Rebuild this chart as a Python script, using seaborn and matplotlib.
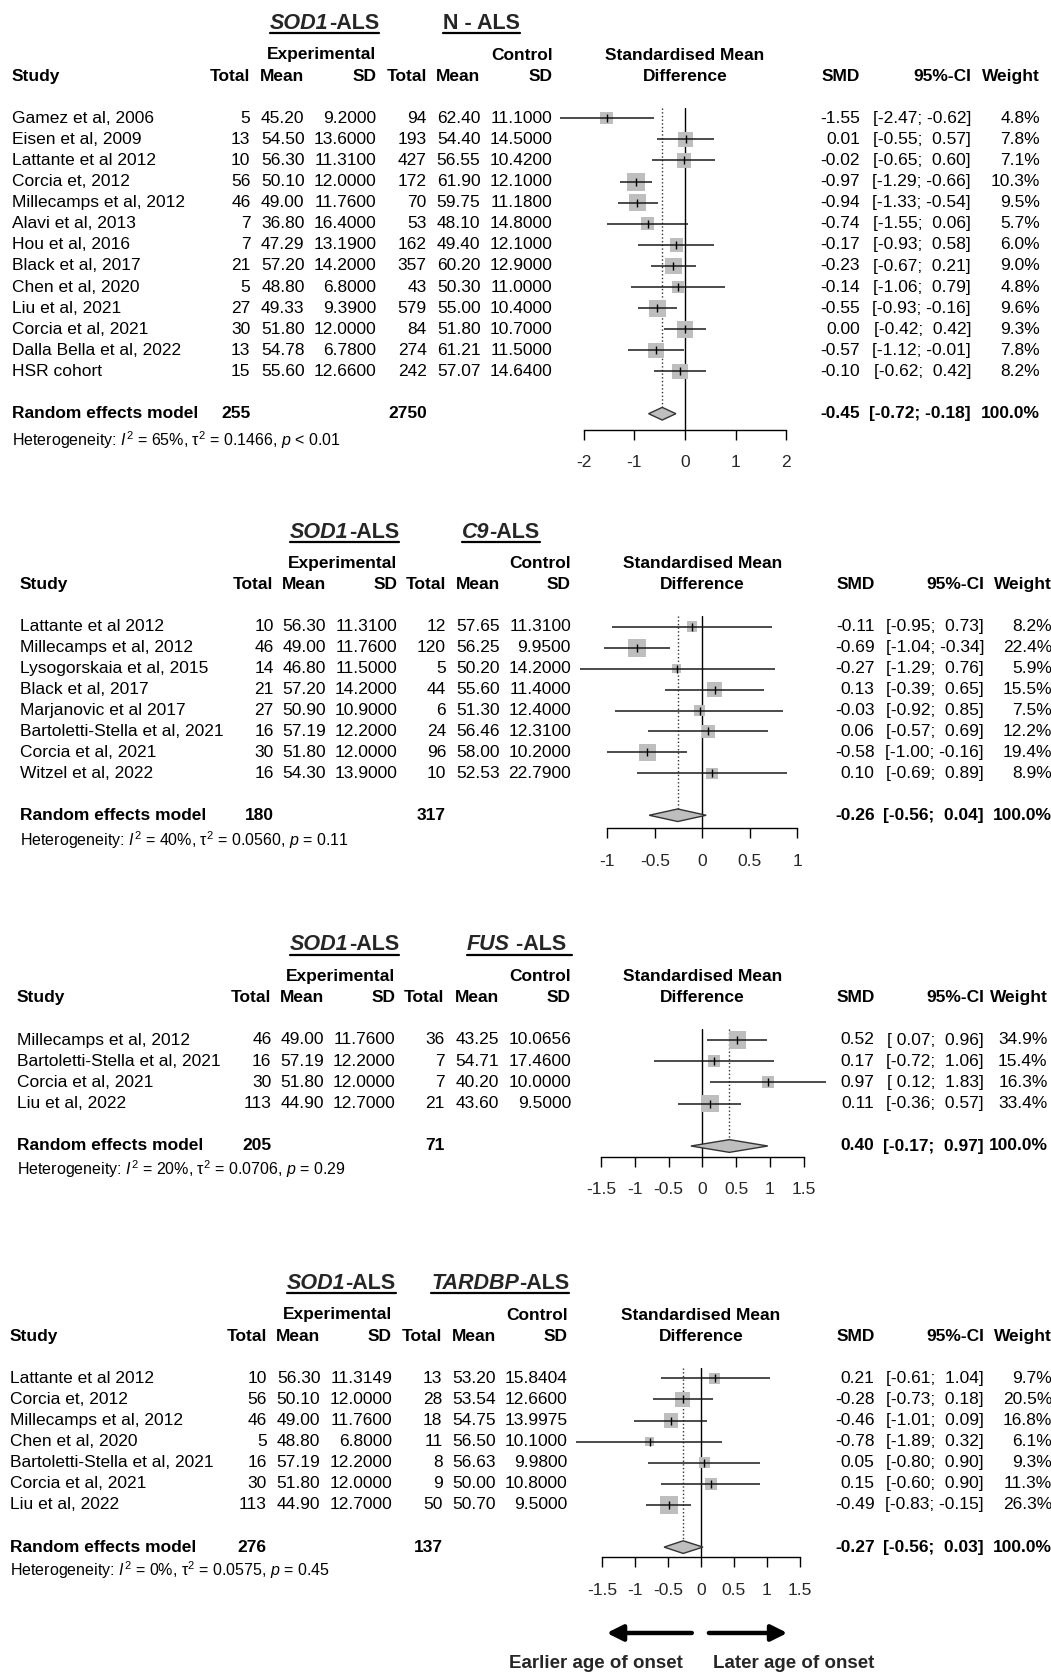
import numpy as np
import pandas as pd
import matplotlib
matplotlib.use("Agg")
import matplotlib.pyplot as plt
import matplotlib.transforms as mtransforms
from matplotlib.lines import Line2D
import seaborn as sns

# ============================================================================
# DATA
# ============================================================================

# --- SOD1-ALS vs N-ALS ---
nals_study = ["Gamez et al, 2006", "Eisen et al, 2009", "Lattante et al 2012", "Corcia et, 2012",
              "Millecamps et al, 2012", "Alavi et al, 2013", "Hou et al, 2016", "Black et al, 2017",
              "Chen et al, 2020", "Liu et al, 2021", "Corcia et al, 2021", "Dalla Bella et al, 2022",
              "HSR cohort"]
nals_e_n = [5, 13, 10, 56, 46, 7, 7, 21, 5, 27, 30, 13, 15]
nals_e_mean = [45.20, 54.50, 56.30, 50.10, 49.00, 36.80, 47.29, 57.20, 48.80, 49.33, 51.80, 54.78, 55.60]
nals_e_sd = [9.2, 13.6, 11.31, 12.0, 11.76, 16.4, 13.19, 14.2, 6.8, 9.39, 12.0, 6.78, 12.66]
nals_c_n = [94, 193, 427, 172, 70, 53, 162, 357, 43, 579, 84, 274, 242]
nals_c_mean = [62.40, 54.40, 56.55, 61.90, 59.75, 48.10, 49.40, 60.20, 50.30, 55.00, 51.80, 61.21, 57.07]
nals_c_sd = [11.1, 14.5, 10.42, 12.1, 11.18, 14.8, 12.1, 12.9, 11.0, 10.4, 10.7, 11.5, 14.64]
nals_smd = [-1.55, 0.01, -0.02, -0.97, -0.94, -0.74, -0.17, -0.23, -0.14, -0.55, 0.00, -0.57, -0.10]
nals_lo = [-2.47, -0.55, -0.65, -1.29, -1.33, -1.55, -0.93, -0.67, -1.06, -0.93, -0.42, -1.12, -0.62]
nals_hi = [-0.62, 0.57, 0.60, -0.66, -0.54, 0.06, 0.58, 0.21, 0.79, -0.16, 0.42, -0.01, 0.42]
nals_w = [4.8, 7.8, 7.1, 10.3, 9.5, 5.7, 6.0, 9.0, 4.8, 9.6, 9.3, 7.8, 8.2]
nals_pooled = [255, 2750, -0.45, -0.72, -0.18]
nals_het = ["65", "0.1466", "< 0.01"]
nals_ticks = [-2, -1, 0, 1, 2]
nals_ticklabels = ["-2", "-1", "0", "1", "2"]

# --- SOD1-ALS vs C9-ALS ---
c9_study = ["Lattante et al 2012", "Millecamps et al, 2012", "Lysogorskaia et al, 2015", "Black et al, 2017",
            "Marjanovic et al 2017", "Bartoletti-Stella et al, 2021", "Corcia et al, 2021", "Witzel et al, 2022"]
c9_e_n = [10, 46, 14, 21, 27, 16, 30, 16]
c9_e_mean = [56.30, 49.00, 46.80, 57.20, 50.90, 57.19, 51.80, 54.30]
c9_e_sd = [11.31, 11.76, 11.5, 14.2, 10.9, 12.2, 12.0, 13.9]
c9_c_n = [12, 120, 5, 44, 6, 24, 96, 10]
c9_c_mean = [57.65, 56.25, 50.20, 55.60, 51.30, 56.46, 58.00, 52.53]
c9_c_sd = [11.31, 9.95, 14.2, 11.4, 12.4, 12.31, 10.2, 22.79]
c9_smd = [-0.11, -0.69, -0.27, 0.13, -0.03, 0.06, -0.58, 0.10]
c9_lo = [-0.95, -1.04, -1.29, -0.39, -0.92, -0.57, -1.00, -0.69]
c9_hi = [0.73, -0.34, 0.76, 0.65, 0.85, 0.69, -0.16, 0.89]
c9_w = [8.2, 22.4, 5.9, 15.5, 7.5, 12.2, 19.4, 8.9]
c9_pooled = [180, 317, -0.26, -0.56, 0.04]
c9_het = ["40", "0.0560", "= 0.11"]
c9_ticks = [-1, -0.5, 0, 0.5, 1]
c9_ticklabels = ["-1", "-0.5", "0", "0.5", "1"]

# --- SOD1-ALS vs FUS-ALS ---
fus_study = ["Millecamps et al, 2012", "Bartoletti-Stella et al, 2021", "Corcia et al, 2021", "Liu et al, 2022"]
fus_e_n = [46, 16, 30, 113]
fus_e_mean = [49.00, 57.19, 51.80, 44.90]
fus_e_sd = [11.76, 12.2, 12.0, 12.7]
fus_c_n = [36, 7, 7, 21]
fus_c_mean = [43.25, 54.71, 40.20, 43.60]
fus_c_sd = [10.0656, 17.46, 10.0, 9.5]
fus_smd = [0.52, 0.17, 0.97, 0.11]
fus_lo = [0.07, -0.72, 0.12, -0.36]
fus_hi = [0.96, 1.06, 1.83, 0.57]
fus_w = [34.9, 15.4, 16.3, 33.4]
fus_pooled = [205, 71, 0.40, -0.17, 0.97]
fus_het = ["20", "0.0706", "= 0.29"]
fus_ticks = [-1.5, -1, -0.5, 0, 0.5, 1, 1.5]
fus_ticklabels = ["-1.5", "-1", "-0.5", "0", "0.5", "1", "1.5"]

# --- SOD1-ALS vs TARDBP-ALS ---
tdp_study = ["Lattante et al 2012", "Corcia et, 2012", "Millecamps et al, 2012", "Chen et al, 2020",
             "Bartoletti-Stella et al, 2021", "Corcia et al, 2021", "Liu et al, 2022"]
tdp_e_n = [10, 56, 46, 5, 16, 30, 113]
tdp_e_mean = [56.30, 50.10, 49.00, 48.80, 57.19, 51.80, 44.90]
tdp_e_sd = [11.3149, 12.0, 11.76, 6.8, 12.2, 12.0, 12.7]
tdp_c_n = [13, 28, 18, 11, 8, 9, 50]
tdp_c_mean = [53.20, 53.54, 54.75, 56.50, 56.63, 50.00, 50.70]
tdp_c_sd = [15.8404, 12.66, 13.9975, 10.1, 9.98, 10.8, 9.5]
tdp_smd = [0.21, -0.28, -0.46, -0.78, 0.05, 0.15, -0.49]
tdp_lo = [-0.61, -0.73, -1.01, -1.89, -0.80, -0.60, -0.83]
tdp_hi = [1.04, 0.18, 0.09, 0.32, 0.90, 0.90, -0.15]
tdp_w = [9.7, 20.5, 16.8, 6.1, 9.3, 11.3, 26.3]
tdp_pooled = [276, 137, -0.27, -0.56, 0.03]
tdp_het = ["0", "0.0575", "= 0.45"]
tdp_ticks = [-1.5, -1, -0.5, 0, 0.5, 1, 1.5]
tdp_ticklabels = ["-1.5", "-1", "-0.5", "0", "0.5", "1", "1.5"]

panels = [
    dict(study=nals_study, e_n=nals_e_n, e_mean=nals_e_mean, e_sd=nals_e_sd, c_n=nals_c_n,
         c_mean=nals_c_mean, c_sd=nals_c_sd, smd=nals_smd, lo=nals_lo, hi=nals_hi, w=nals_w,
         pooled=nals_pooled, het=nals_het, ticks=nals_ticks, ticklabels=nals_ticklabels,
         right_title=[("N - ALS", "normal")]),
    dict(study=c9_study, e_n=c9_e_n, e_mean=c9_e_mean, e_sd=c9_e_sd, c_n=c9_c_n,
         c_mean=c9_c_mean, c_sd=c9_c_sd, smd=c9_smd, lo=c9_lo, hi=c9_hi, w=c9_w,
         pooled=c9_pooled, het=c9_het, ticks=c9_ticks, ticklabels=c9_ticklabels,
         right_title=[("C9", "italic"), ("-ALS", "normal")]),
    dict(study=fus_study, e_n=fus_e_n, e_mean=fus_e_mean, e_sd=fus_e_sd, c_n=fus_c_n,
         c_mean=fus_c_mean, c_sd=fus_c_sd, smd=fus_smd, lo=fus_lo, hi=fus_hi, w=fus_w,
         pooled=fus_pooled, het=fus_het, ticks=fus_ticks, ticklabels=fus_ticklabels,
         right_title=[("FUS", "italic"), (" -ALS ", "normal")]),
    dict(study=tdp_study, e_n=tdp_e_n, e_mean=tdp_e_mean, e_sd=tdp_e_sd, c_n=tdp_c_n,
         c_mean=tdp_c_mean, c_sd=tdp_c_sd, smd=tdp_smd, lo=tdp_lo, hi=tdp_hi, w=tdp_w,
         pooled=tdp_pooled, het=tdp_het, ticks=tdp_ticks, ticklabels=tdp_ticklabels,
         right_title=[("TARDBP", "italic"), ("-ALS", "normal")]),
]

# ============================================================================
# LAYOUT (pixel positions of each panel in the 1051 x 1672 figure)
# ============================================================================
W, H = 1051, 1672
layouts = [
    dict(y0=118.3, dy=21.1, x0=685.0, ux=50.6, axis_off=0.77, het_off=1.25,
         cols=[12, 250.5, 304.5, 376.3, 426.7, 480.5, 552.4, 860, 971, 1040], titles=[270, 443]),
    dict(y0=626.7, dy=20.95, x0=702.4, ux=95.0, axis_off=0.62, het_off=1.18,
         cols=[20, 273.5, 326, 397.5, 446, 500, 571, 874.6, 984, 1052], titles=[290, 462]),
    dict(y0=1040.0, dy=21.2, x0=702.4, ux=67.4, axis_off=0.50, het_off=1.07,
         cols=[17, 271.4, 323.7, 395.4, 444.4, 499.3, 571, 874.6, 984, 1047.6], titles=[290, 467]),
    dict(y0=1378.3, dy=21.1, x0=701.0, ux=65.9, axis_off=0.48, het_off=1.10,
         cols=[10, 266.8, 320.4, 392, 442.4, 496, 567.7, 874.6, 984, 1052], titles=[287, 431]),
]

FS = 12.5          # body text
TITLE_FS = 15.5
HET_FS = 11.5
SQ_COL = "#BEBEBE"
SQ_MAX = 165       # area (pt^2) of the largest square in each panel

# ============================================================================
# STYLE
# ============================================================================
sns.set_style("white")
plt.rcParams["font.family"] = ["Liberation Sans", "DejaVu Sans"]
plt.rcParams["mathtext.fontset"] = "custom"
plt.rcParams["mathtext.rm"] = "Liberation Sans"
plt.rcParams["mathtext.it"] = "Liberation Sans:italic"
plt.rcParams["mathtext.bf"] = "Liberation Sans:bold"

fig = plt.figure(figsize=(W / 100, H / 100), dpi=100)
fig.patch.set_facecolor("white")
renderer = fig.canvas.get_renderer()

# ============================================================================
# PANELS
# ============================================================================
for k, (p, lay) in enumerate(zip(panels, layouts)):
    n = len(p["study"])
    rows = np.arange(n)
    pooled_row = n + 1
    axis_row = pooled_row + lay["axis_off"]
    top_row = -0.5

    left = lay["x0"] + p["ticks"][0] * lay["ux"]
    right = lay["x0"] + p["ticks"][-1] * lay["ux"]
    top_px = lay["y0"] + top_row * lay["dy"]
    bot_px = lay["y0"] + axis_row * lay["dy"]
    ax = fig.add_axes([left / W, 1 - bot_px / H, (right - left) / W, (bot_px - top_px) / H])
    ax.set_facecolor("none")

    # squares (area proportional to weight)
    df = pd.DataFrame({"smd": p["smd"], "row": rows, "weight": p["w"]})
    sns.scatterplot(data=df, x="smd", y="row", size="weight", sizes=(0, SQ_MAX),
                    size_norm=(0, max(p["w"])), marker="s", color=SQ_COL, linewidth=0,
                    legend=False, ax=ax, zorder=2, clip_on=False)
    # confidence intervals and point estimates
    ax.hlines(rows, p["lo"], p["hi"], color="#1a1a1a", lw=1.1, zorder=3, clip_on=False)
    ax.scatter(p["smd"], rows, marker="|", s=28, color="black", linewidths=1.0, zorder=4, clip_on=False)

    # pooled diamond
    e_tot, c_tot, m_est, m_lo, m_hi = p["pooled"]
    ax.fill([m_lo, m_est, m_hi, m_est],
            [pooled_row, pooled_row - 0.3, pooled_row, pooled_row + 0.3],
            facecolor=SQ_COL, edgecolor="#333333", lw=1.0, zorder=3, clip_on=False)

    # reference lines
    ax.axvline(0, color="black", lw=1.0, zorder=1)
    ax.vlines(m_est, top_row, pooled_row + 0.3, color="#333333", lw=1.0, linestyles=":", zorder=1)

    ax.set_xlim(p["ticks"][0], p["ticks"][-1])
    ax.set_ylim(axis_row, top_row)
    ax.set_xlabel("")
    ax.set_ylabel("")
    ax.set_yticks([])
    ax.set_xticks(p["ticks"])
    ax.set_xticklabels(p["ticklabels"])
    ax.tick_params(axis="x", direction="out", length=7.2, width=1.0, pad=11,
                   labelsize=FS, color="black", bottom=True)
    for side in ["top", "left", "right"]:
        ax.spines[side].set_visible(False)
    ax.spines["bottom"].set_color("black")
    ax.spines["bottom"].set_linewidth(1.0)

    # ------------------------------------------------------------------
    # text columns
    # ------------------------------------------------------------------
    tf = mtransforms.blended_transform_factory(fig.transFigure, ax.transData)
    c = lay["cols"]
    mid = (left + right) / 2

    def put(xp, row, s, ha="right", weight="normal", size=FS):
        ax.text(xp / W, row, s, transform=tf, ha=ha, va="center",
                fontsize=size, fontweight=weight, color="black")

    # headers
    put(c[3], -3, "Experimental", weight="bold")
    put(c[6], -3, "Control", weight="bold")
    put(mid, -3, "Standardised Mean", ha="center", weight="bold")
    put(c[0], -2, "Study", ha="left", weight="bold")
    for xp, lab in zip(c[1:7], ["Total", "Mean", "SD", "Total", "Mean", "SD"]):
        put(xp, -2, lab, weight="bold")
    put(mid, -2, "Difference", ha="center", weight="bold")
    put(c[7], -2, "SMD", weight="bold")
    put(c[8], -2, "95%-CI", weight="bold")
    put(c[9], -2, "Weight", weight="bold")

    # study rows
    for i in range(n):
        put(c[0], i, p["study"][i], ha="left")
        put(c[1], i, f"{p['e_n'][i]}")
        put(c[2], i, f"{p['e_mean'][i]:.2f}")
        put(c[3], i, f"{p['e_sd'][i]:.4f}")
        put(c[4], i, f"{p['c_n'][i]}")
        put(c[5], i, f"{p['c_mean'][i]:.2f}")
        put(c[6], i, f"{p['c_sd'][i]:.4f}")
        put(c[7], i, f"{p['smd'][i]:.2f}")
        put(c[8], i, f"[{p['lo'][i]:5.2f}; {p['hi'][i]:5.2f}]")
        put(c[9], i, f"{p['w'][i]:.1f}%")

    # pooled row
    put(c[0], pooled_row, "Random effects model", ha="left", weight="bold")
    put(c[1], pooled_row, f"{e_tot}", weight="bold")
    put(c[4], pooled_row, f"{c_tot}", weight="bold")
    put(c[7], pooled_row, f"{m_est:.2f}", weight="bold")
    put(c[8], pooled_row, f"[{m_lo:5.2f}; {m_hi:5.2f}]", weight="bold")
    put(c[9], pooled_row, "100.0%", weight="bold")

    # heterogeneity
    i2, tau2, pval = p["het"]
    het = rf"Heterogeneity: $I^2$ = {i2}%, $\mathrm{{\tau}}^2$ = {tau2}, $p$ {pval}"
    put(c[0], pooled_row + lay["het_off"], het, ha="left", size=HET_FS)

    # ------------------------------------------------------------------
    # underlined titles
    # ------------------------------------------------------------------
    title_row = -4.5
    under_row = title_row + 10 / lay["dy"]
    groups = [[("SOD1", "italic"), ("-ALS", "normal")], p["right_title"]]
    for x_start, parts in zip(lay["titles"], groups):
        x = x_start / W
        for txt, style in parts:
            t = ax.text(x, title_row, txt, transform=tf, ha="left", va="center",
                        fontsize=TITLE_FS, fontweight="bold", fontstyle=style)
            x = t.get_window_extent(renderer).x1 / W
        fig.add_artist(Line2D([x_start / W, x], [under_row, under_row],
                              transform=tf, color="black", lw=1.6))

    # direction arrows under the last panel
    if k == len(panels) - 1:
        arrow = dict(arrowstyle="-|>", lw=3.2, color="black", mutation_scale=24,
                     shrinkA=0, shrinkB=0)
        ax.annotate("", xy=(-1.43, 12.07), xytext=(-0.14, 12.07), xycoords="data",
                    arrowprops=arrow, annotation_clip=False)
        ax.annotate("", xy=(1.31, 12.07), xytext=(0.12, 12.07), xycoords="data",
                    arrowprops=arrow, annotation_clip=False)
        ax.text(-1.59, 13.5, "Earlier age of onset", ha="center", va="center",
                fontsize=13.5, fontweight="bold", clip_on=False)
        ax.text(1.41, 13.5, "Later age of onset", ha="center", va="center",
                fontsize=13.5, fontweight="bold", clip_on=False)

plt.savefig("out.png", dpi=100, facecolor="white")
